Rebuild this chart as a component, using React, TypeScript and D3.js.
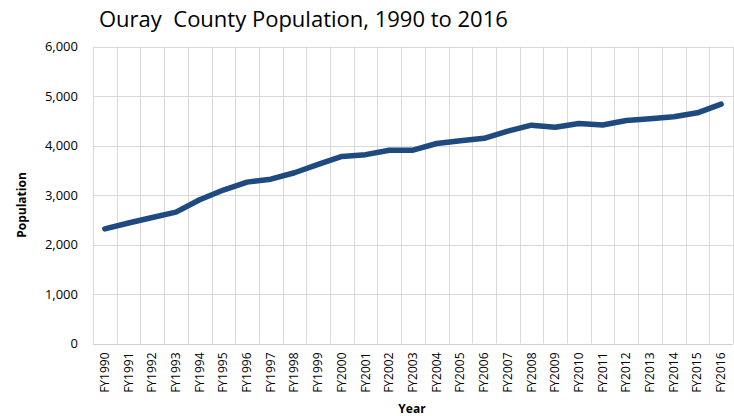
import React from 'react';
import * as d3 from 'd3';

const years = [
    'FY1990', 'FY1991', 'FY1992', 'FY1993', 'FY1994', 'FY1995', 'FY1996', 'FY1997', 'FY1998',
    'FY1999', 'FY2000', 'FY2001', 'FY2002', 'FY2003', 'FY2004', 'FY2005', 'FY2006', 'FY2007',
    'FY2008', 'FY2009', 'FY2010', 'FY2011', 'FY2012', 'FY2013', 'FY2014', 'FY2015', 'FY2016',
];
const population = [
    2315, 2435, 2545, 2655, 2905, 3100, 3260, 3320, 3450,
    3620, 3780, 3815, 3905, 3905, 4040, 4095, 4145, 4290,
    4410, 4370, 4445, 4415, 4505, 4540, 4580, 4660, 4835,
];
const yTicks = [0, 1000, 2000, 3000, 4000, 5000, 6000];

const width = 734;
const height = 416;
const margin = { top: 46.5, right: 1, bottom: 72.5, left: 93 };

export default function App() {
    const x = d3.scaleBand<string>()
        .domain(years)
        .range([margin.left, width - margin.right])
        .padding(0);
    const y = d3.scaleLinear()
        .domain([0, 6000])
        .range([height - margin.bottom, margin.top]);

    const line = d3.line<number>()
        .x((_, i) => x(years[i])! + x.bandwidth() / 2)
        .y((d) => y(d));

    const fmt = d3.format(',');
    const gridX = years.map((c) => x(c)!).concat([width - margin.right]);
    const font = '"Open Sans", "Noto Sans", sans-serif';

    return (
        <svg width={width} height={height} style={{ position: 'absolute', left: 0, top: 0, background: '#fff' }}>
            <text x={99} y={27} fontFamily={font} fontSize={22} fill="#000" style={{ whiteSpace: 'pre' }}>
                {'Ouray  County Population, 1990 to 2016'}
            </text>

            {/* grid */}
            {yTicks.map((t) => (
                <line key={t} x1={margin.left} x2={width - margin.right} y1={Math.round(y(t)) + 0.5} y2={Math.round(y(t)) + 0.5}
                      stroke={t === 0 ? '#d0d0d0' : '#d9d9d9'} strokeWidth={1} />
            ))}
            {gridX.map((gx, i) => (
                <line key={i} x1={Math.round(gx) + 0.5} x2={Math.round(gx) + 0.5} y1={y(6000)} y2={y(0)}
                      stroke="#d9d9d9" strokeWidth={1} />
            ))}

            {/* y axis labels */}
            {yTicks.map((t) => (
                <text key={t} x={78} y={y(t)} dy="0.35em" textAnchor="end" fontFamily={font} fontSize={13} fill="#000">
                    {fmt(t)}
                </text>
            ))}
            <text transform={`translate(26, 205) rotate(-90)`} textAnchor="middle" fontFamily={font}
                  fontSize={12} fontWeight="bold" fill="#000">Population</text>

            {/* x axis labels */}
            {years.map((c) => (
                <text key={c} transform={`translate(${x(c)! + x.bandwidth() / 2 + 4}, ${y(0) + 9}) rotate(-90)`}
                      textAnchor="end" fontFamily={font} fontSize={12} fill="#000">{c}</text>
            ))}
            <text x={412} y={413} textAnchor="middle" fontFamily={font} fontSize={12} fontWeight="bold" fill="#000">Year</text>

            <path d={line(population) || ''} fill="none" stroke="#1f4a7f" strokeWidth={5.5}
                  strokeLinejoin="round" strokeLinecap="round" />
        </svg>
    );
}
